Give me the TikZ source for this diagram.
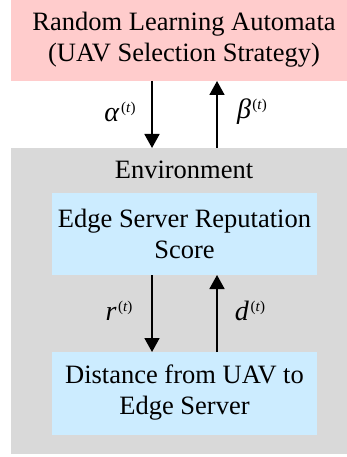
\documentclass[tikz,border=0pt]{standalone}
\usepackage{fontspec}
\setmainfont{Liberation Serif}
\usetikzlibrary{arrows.meta}
\definecolor{pinkfill}{HTML}{FFCCCC}
\definecolor{grayfill}{HTML}{D9D9D9}
\definecolor{bluefill}{HTML}{CCECFF}
\tikzset{
  box/.style={draw=none, inner sep=0pt, outer sep=0pt, align=center},
  txt/.style={font=\fontsize{26.5}{31}\selectfont, align=center, inner sep=0pt},
  lbl/.style={font=\fontsize{28}{31}\selectfont, inner sep=0pt},
  arr/.style={line width=1.8pt, -{Triangle[length=14pt,width=15pt]}},
}
\newcommand{\lab}[1]{\textit{#1}\kern1.5pt\raisebox{9.5pt}{\fontsize{15}{15}\selectfont(\textit{t})}}
\begin{document}
\begin{tikzpicture}[x=1pt,y=-1pt]
\useasboundingbox (0,0) rectangle (346,457);
% boxes
\node[box, fill=pinkfill, minimum width=346pt, minimum height=81pt] (rla) at (184,40.5) {};
\node[box, fill=grayfill, minimum width=346pt, minimum height=306pt] (env) at (184,301) {};
\node[box, fill=bluefill, minimum width=265pt, minimum height=82pt] (rep) at (184.5,234) {};
\node[box, fill=bluefill, minimum width=265pt, minimum height=83pt] (dist) at (184.5,393.5) {};
% texts
\node[txt] (rlat) at (184,40) {Random Learning Automata\\(UAV Selection Strategy)};
\node[txt] (envt) at (184,170) {Environment};
\node[txt] (rept) at (184.5,234) {Edge Server Reputation\\Score};
\node[txt] (distt) at (184.5,393) {Distance from UAV to\\Edge Server};
% arrow columns
\coordinate (xl) at (152,0);
\coordinate (xr) at (217,0);
\draw[arr] (rla.south -| xl) -- (env.north -| xl);
\draw[arr] (env.north -| xr) -- (rla.south -| xr);
\draw[arr] (rep.south -| xl) -- (dist.north -| xl);
\draw[arr] (dist.north -| xr) -- (rep.south -| xr);
% labels
\node[lbl] (la) at (120,112) {\lab{α}};
\node[lbl] (lb) at (252,112) {\lab{β}};
\node[lbl] (lr) at (119,311) {\lab{r}};
\node[lbl] (ld) at (250,311) {\lab{d}};
\end{tikzpicture}
\end{document}
